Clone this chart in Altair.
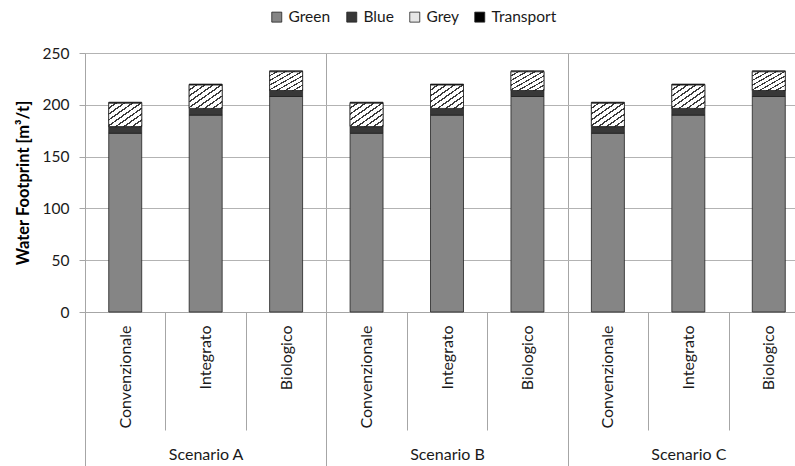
import altair as alt
import pandas as pd

scenarios = ["Scenario A", "Scenario B", "Scenario C"]
practices = ["Convenzionale", "Integrato", "Biologico"]
series = ["Green", "Blue", "Grey", "Transport"]
green = [172.5, 190.0, 208.0]
blue = [6.5, 6.5, 5.8]
grey = [22.5, 22.5, 18.0]
transport = [1.0, 1.0, 1.0]

vals = {"Green": green, "Blue": blue, "Grey": grey, "Transport": transport}
rows = []
for s in scenarios:
    for i, p in enumerate(practices):
        for k, ser in enumerate(series):
            rows.append({"scenario": s, "practice": p, "key": s + "|" + p,
                         "series": ser, "order": k, "value": vals[ser][i]})
df = pd.DataFrame(rows)
keys = [s + "|" + p for s in scenarios for p in practices]
scen_df = pd.DataFrame({"scenario": scenarios})

FONT = "Lato"
FULL = 724  # full scale range (chart is cropped on the right)

xs = alt.X("key:N", sort=keys,
           scale=alt.Scale(paddingInner=0, paddingOuter=0, range=[0, FULL]),
           axis=alt.Axis(title=None, labelAngle=-90, labelExpr="split(datum.value, '|')[1]",
                         tickBand="extent", tickSize=118, tickColor="#a6a6a6",
                         domainColor="#a6a6a6", labelPadding=-105, labelFont=FONT,
                         labelFontSize=16, labelColor="#1a1a1a", orient="bottom",
                         grid=False))
ys = alt.Y("y0:Q", scale=alt.Scale(domain=[0, 250], nice=False),
           axis=alt.Axis(title="Water Footprint [m³/t]", values=[0, 50, 100, 150, 200, 250],
                         grid=True, gridColor="#b3b3b3", domainColor="#a6a6a6",
                         tickColor="#a6a6a6", tickSize=6, labelPadding=10,
                         labelFont=FONT, labelFontSize=15.5, labelColor="#1a1a1a",
                         titleFont=FONT, titleFontSize=16.5, titleFontWeight="bold",
                         titleColor="#000000", titlePadding=11))

base = alt.Chart(df).transform_stack(
    stack="value", as_=["y0", "y1"], groupby=["key"],
    sort=[alt.SortField("order", order="ascending")])

bars = base.mark_bar(width=alt.RelativeBandSize(0.41), stroke="#222222", strokeWidth=0.8).encode(
    x=xs, y=ys, y2="y1:Q",
    color=alt.Color("series:N", sort=series,
                    scale=alt.Scale(domain=series, range=["#858585", "#383838", "#e6e6e6", "#000000"]),
                    legend=alt.Legend(title=None, orient="none", direction="horizontal",
                                      legendX=184, legendY=-44, symbolType="square",
                                      symbolSize=100, symbolStrokeColor="#222222",
                                      symbolStrokeWidth=0.8, labelFont=FONT, labelFontSize=15.5,
                                      labelColor="#1a1a1a", columnPadding=13, labelOffset=4,
                                      padding=0, symbolOpacity=1)),
)

n = 8
stops = []
for k in range(n):
    a = k / n
    b = (k + 0.72) / n
    c = (k + 1) / n
    stops += [alt.GradientStop(offset=a, color="#ffffff"),
              alt.GradientStop(offset=b, color="#ffffff"),
              alt.GradientStop(offset=b, color="#3a3a3a"),
              alt.GradientStop(offset=c, color="#3a3a3a")]
hatch_grad = alt.LinearGradient(gradient="linear", stops=stops, x1=0, y1=0, x2=1, y2=1)

hatch = base.transform_filter(alt.datum.series == "Grey").mark_bar(
    width=alt.RelativeBandSize(0.41), color=hatch_grad, stroke="#222222", strokeWidth=0.8
).encode(x=xs, y=alt.Y("y0:Q"), y2="y1:Q")

scen = alt.Chart(scen_df).mark_point(opacity=0).encode(
    x=alt.X("scenario:N", sort=scenarios,
            scale=alt.Scale(paddingInner=0, paddingOuter=0, range=[0, FULL]),
            axis=alt.Axis(title=None, orient="bottom", grid=True, gridColor="#a6a6a6",
                          tickBand="extent", tickSize=154, tickColor="#a6a6a6",
                          domain=False, labelAngle=0, labelPadding=-20, labelFont=FONT,
                          labelFontSize=16, labelColor="#1a1a1a")),
    y=alt.value(0),
)

chart = alt.layer(alt.layer(bars, hatch), scen).resolve_scale(x="independent").properties(
    width=710, height=259,
    autosize=alt.AutoSizeParams(type="none"),
    padding={"left": 85, "top": 53, "right": 0, "bottom": 154},
).configure_view(stroke=None)

chart.save("out.html", embed_options={"renderer": "svg", "actions": False})
